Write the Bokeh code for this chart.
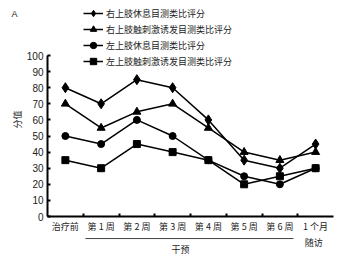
import math
from bokeh.plotting import figure
from bokeh.models import (Range1d, FixedTicker, Label, Arrow, Legend, LegendItem)
from bokeh.embed import file_html
from bokeh.resources import INLINE

categories = ["治疗前", "第 1 周", "第 2 周", "第 3 周", "第 4 周", "第 5 周", "第 6 周", "1 个月"]
series_names = ["右上肢休息目测类比评分", "右上肢触刺激诱发目测类比评分",
                "左上肢休息目测类比评分", "左上肢触刺激诱发目测类比评分"]
right_rest = [80, 70, 85, 80, 60, 35, 30, 45]
right_touch = [70, 55, 65, 70, 55, 40, 35, 40]
left_rest = [50, 45, 60, 50, 35, 25, 20, 30]
left_touch = [35, 30, 45, 40, 35, 20, 25, 30]
y_ticks = [0, 10, 20, 30, 40, 50, 60, 70, 80, 90, 100]
group_labels = ["干预", "随访"]
y_label = "分值"
panel_label = "A"

CJK = "Noto Sans CJK SC"
NUM = "Liberation Sans"
TXT = "#222222"

n = len(categories)
xs = [i + 0.5 for i in range(n)]

# frame covers whole canvas; axes are pinned at data 0
W, H = 340, 258
left_px, right_px, top_px, bottom_px = 47, 7, 55, 42
xpu = (W - left_px - right_px) / n
ypu = (H - top_px - bottom_px) / 100.0
x0 = -left_px / xpu
x1 = n + right_px / xpu
y0 = -bottom_px / ypu
y1 = 100 + top_px / ypu

p = figure(width=W, height=H, output_backend="svg", toolbar_location=None,
           x_range=Range1d(x0, x1), y_range=Range1d(y0, y1), min_border=0)
p.outline_line_color = None
p.xgrid.visible = False
p.ygrid.visible = False
p.background_fill_color = "white"
p.border_fill_color = "white"

# axes
p.xaxis.fixed_location = 0
p.xaxis.bounds = (0, n)
p.xaxis.ticker = FixedTicker(ticks=xs, minor_ticks=list(range(1, n)))
p.xaxis.major_label_overrides = {x: c for x, c in zip(xs, categories)}
p.xaxis.major_tick_in = 0
p.xaxis.major_tick_out = 0
p.xaxis.minor_tick_in = 3
p.xaxis.minor_tick_out = 0
p.xaxis.minor_tick_line_width = 2
p.xaxis.axis_line_width = 2
p.xaxis.major_label_text_font = CJK
p.xaxis.major_label_text_font_size = "9px"
p.xaxis.major_label_standoff = 3
p.xaxis.major_label_text_color = TXT

p.yaxis.fixed_location = 0
p.yaxis.bounds = (0, 100)
p.yaxis.ticker = FixedTicker(ticks=y_ticks)
p.yaxis.major_tick_in = 3
p.yaxis.major_tick_out = 0
p.yaxis.minor_tick_line_color = None
p.yaxis.major_tick_line_width = 2
p.yaxis.axis_line_width = 2
p.yaxis.major_label_text_font = NUM
p.yaxis.major_label_text_font_size = "10px"
p.yaxis.major_label_standoff = 4
p.yaxis.major_label_text_color = TXT

series = [right_rest, right_touch, left_rest, left_touch]
markers = ["diamond", "triangle", "circle", "square"]
sizes = [10, 8, 7, 7]
items = []
for name, vals, mk, sz in zip(series_names, series, markers, sizes):
    l = p.line(xs, vals, line_color="black", line_width=1.5)
    s = p.scatter(xs, vals, marker=mk, size=sz, fill_color="black", line_color="black")
    items.append(LegendItem(label=name, renderers=[l, s]))

legend = Legend(items=items, location=(83, 189), orientation="vertical",
                glyph_width=20, glyph_height=16, label_height=16, spacing=0,
                padding=0, margin=0, label_standoff=3,
                label_text_font=CJK, label_text_font_size="9px",
                label_text_color=TXT,
                border_line_alpha=0, background_fill_alpha=0)
p.add_layout(legend, "center")

# y axis title
p.add_layout(Label(x=-0.84, y=60.2, text=y_label, angle=math.pi / 2, text_font=CJK,
                   text_font_size="9px", text_align="center", text_baseline="middle",
                   text_color=TXT))

# group annotations below the axis
start = categories.index("第 1 周") + 0.06
end = categories.index("第 6 周") + 0.88
p.add_layout(Arrow(end=None, start=None, x_start=start, y_start=-13.7, x_end=end, y_end=-13.7,
                   line_color="#444444", line_width=1))
p.add_layout(Label(x=3.72, y=-20.8, text=group_labels[0], text_font=CJK, text_font_size="9px",
                   text_align="center", text_baseline="middle", text_color=TXT))
p.add_layout(Label(x=categories.index("1 个月") + 0.45, y=-16.1, text=group_labels[1], text_font=CJK,
                   text_font_size="9px", text_align="center", text_baseline="middle",
                   text_color=TXT))
p.add_layout(Label(x=-0.92, y=125.5, text=panel_label, text_font=NUM, text_font_size="9px",
                   text_align="center", text_baseline="middle", text_color=TXT))

open("out.html", "w").write(file_html(p, INLINE))
